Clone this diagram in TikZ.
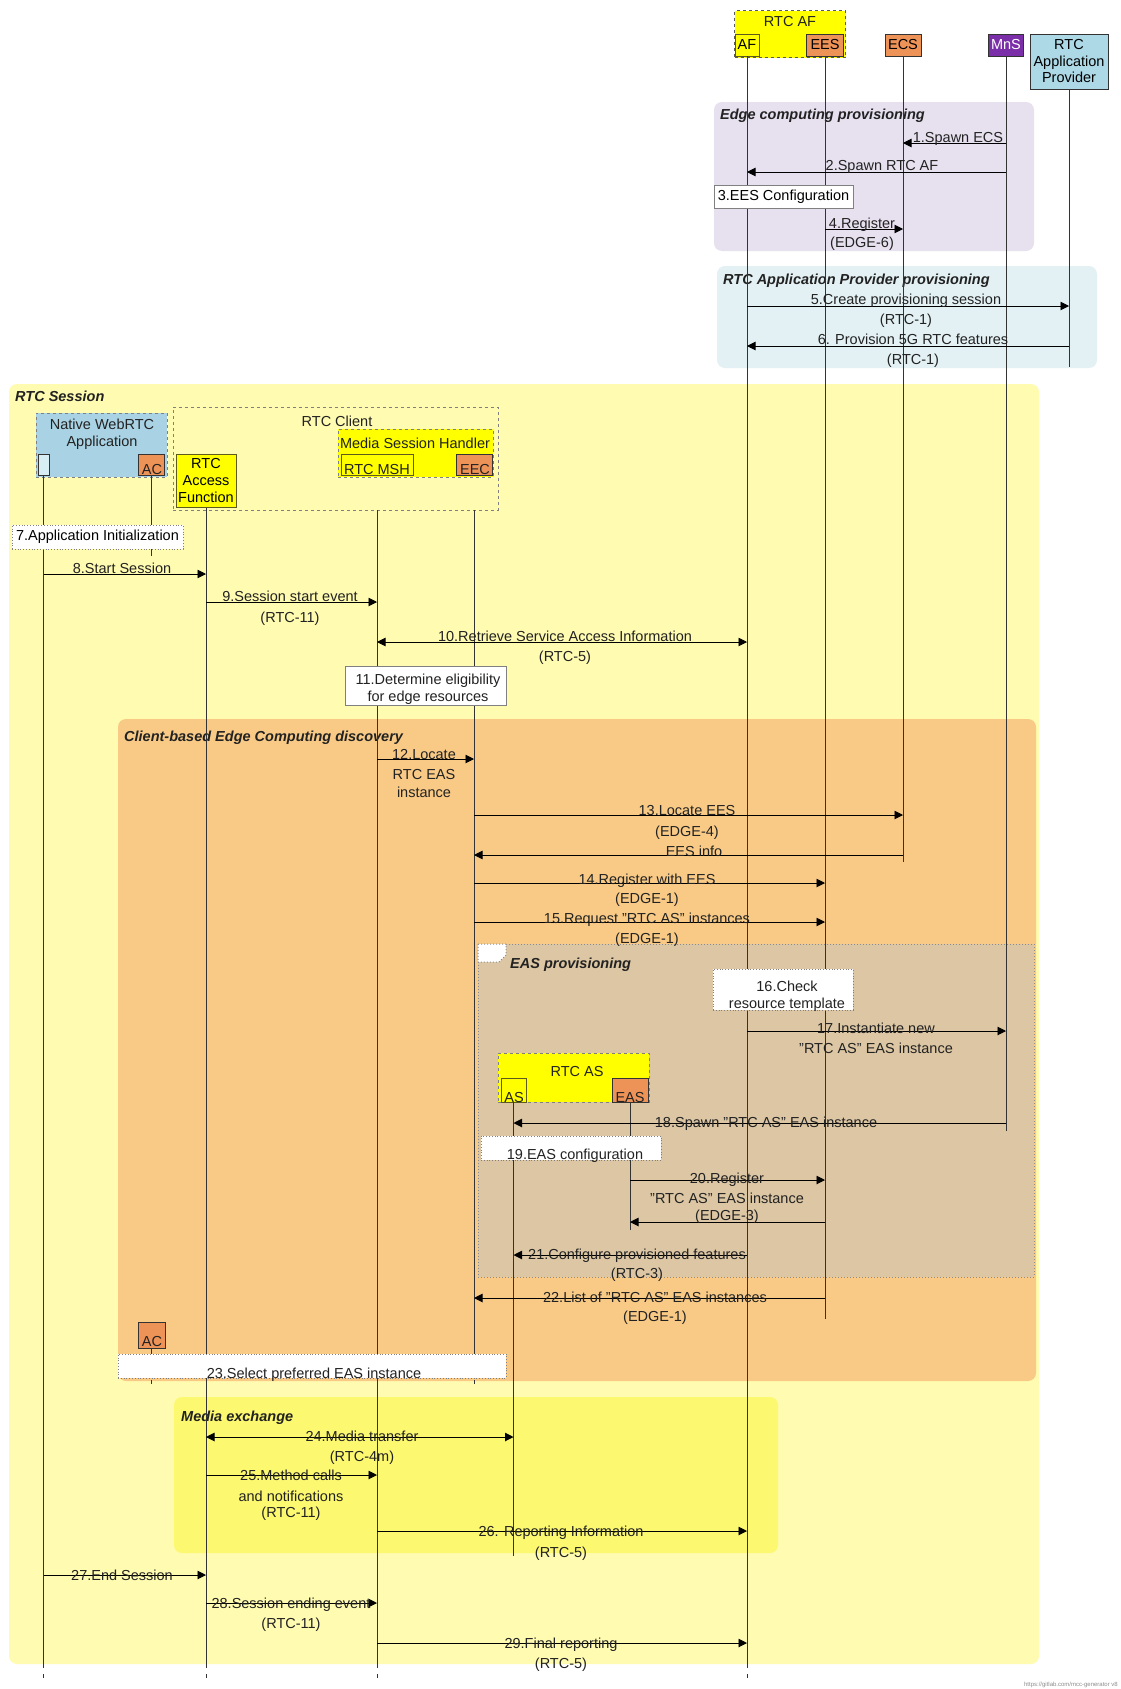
\documentclass[tikz,border=0pt]{standalone}
\usepackage{fontspec}
\setmainfont{Liberation Sans}
\usetikzlibrary{arrows.meta}
\definecolor{edgelav}{HTML}{E7E0EF}
\definecolor{apblue}{HTML}{E3F1F5}
\definecolor{sessyel}{HTML}{FFFBB0}
\definecolor{discor}{HTML}{F8CA86}
\definecolor{eastan}{HTML}{DCC6A3}
\definecolor{mediayel}{HTML}{FCF870}
\definecolor{headyel}{HTML}{FFFF00}
\definecolor{orng}{HTML}{EE9358}
\definecolor{mnspurple}{HTML}{7A2FA8}
\definecolor{rapblue}{HTML}{ADD8E6}
\definecolor{natblue}{HTML}{A9D3E4}
\definecolor{natlight}{HTML}{D8EEF5}
\definecolor{olivedge}{HTML}{5E5A1E}
\definecolor{linegrey}{HTML}{333333}
\definecolor{txtgrey}{HTML}{222222}
\tikzset{
  fnt/.style={font=\fontsize{14.5}{17}\selectfont},
  life/.style={draw=linegrey, line width=0.9pt},
  msg/.style={draw=black, line width=0.9pt, -{Triangle[length=8.5pt,width=8.5pt]}},
  bimsg/.style={draw=black, line width=0.9pt, {Triangle[length=8.5pt,width=8.5pt]}-{Triangle[length=8.5pt,width=8.5pt]}},
  lbl/.style={fnt, inner sep=0pt, anchor=base, text=txtgrey},
  ttl/.style={inner sep=0pt, anchor=base west, font=\fontsize{14.5}{17}\selectfont\bfseries\itshape, text=txtgrey},
  hbox/.style={fnt, draw=linegrey, line width=0.9pt, inner sep=0pt},
  ybox/.style={hbox, fill=headyel, draw=olivedge},
  obox/.style={hbox, fill=orng},
  grp/.style={draw=black!65, dashed, line width=1pt, inner sep=0pt},
  note/.style={fnt, fill=white, draw=black!50, line width=0.8pt, inner sep=0pt, align=center},
  dnote/.style={note, dotted, line width=1pt},
  frm/.style={rounded corners=8pt},
  tick/.style={draw=linegrey, line width=0.9pt},
}
\begin{document}
\begin{tikzpicture}[x=1pt,y=-1pt]
\useasboundingbox (0,0) rectangle (1120,1689);
\fill[white] (0,0) rectangle (1120,1689);

% ---------- frames ----------
\fill[frm, fill=edgelav] (714,102) rectangle (1034,251);
\fill[frm, fill=apblue] (717,266) rectangle (1097,368);
\fill[frm, fill=sessyel] (9,384) rectangle (1039,1664);
\fill[frm, fill=discor] (118,719) rectangle (1036,1381);
\filldraw[fill=eastan, draw=black!45, dotted, line width=1pt] (478,944) rectangle (1034,1277);
\filldraw[fill=white, draw=black!45, dotted, line width=1pt] (478,944) -- (506,944) -- (506,955) -- (499,962) -- (478,962) -- cycle;
\fill[frm, fill=mediayel] (174,1397) rectangle (778,1553);

\node[ttl] (tEdge) at (720,119) {Edge computing provisioning};
\node[ttl] (tRap) at (723,284) {RTC Application Provider provisioning};
\node[ttl] (tSess) at (15,401) {RTC Session};
\node[ttl] (tDisc) at (124,741) {Client-based Edge Computing discovery};
\node[ttl] (tEasp) at (510,968) {EAS provisioning};
\node[ttl] (tMedia) at (181,1421) {Media exchange};

% ---------- group boxes ----------
\node[grp, fill=headyel, minimum width=111pt, minimum height=47pt] (gAF) at (790,34) {};
\node[lbl] (tAF) at (790,26) {RTC AF};
\node[grp, draw=black!50, fill=natblue, minimum width=131pt, minimum height=64pt] (gNat) at (101.5,445) {};
\node[fnt, inner sep=0pt, align=center, text=txtgrey] (tNat) at (102,434) {Native WebRTC\\Application};
\node[grp, draw=black!50, minimum width=325pt, minimum height=103pt] (gCli) at (335.5,458.5) {};
\node[lbl] (tCli) at (337,426) {RTC Client};
\node[grp, draw=black!50, fill=headyel, minimum width=155pt, minimum height=48pt] (gMSH) at (415.5,453) {};
\node[lbl] (tMSHg) at (415,448) {Media Session Handler};
\node[grp, draw=black!50, fill=headyel, minimum width=151pt, minimum height=49pt] (gAS) at (573.5,1077.5) {};
\node[lbl] (tRAS) at (577,1076) {RTC AS};

% ---------- heads ----------
\node[ybox, minimum width=24pt, minimum height=22pt] (hAF) at (747,45) {AF};
\node[obox, minimum width=37pt, minimum height=22pt] (hEES) at (825,45) {EES};
\node[obox, minimum width=36pt, minimum height=22pt] (hECS) at (903,45) {ECS};
\node[hbox, fill=mnspurple, text=white, minimum width=35pt, minimum height=22pt] (hMnS) at (1006,45) {MnS};
\node[hbox, fill=rapblue, minimum width=78pt, minimum height=55pt, align=center, font=\fontsize{14.5}{16.5}\selectfont] (hRAP) at (1069,61.5) {RTC\\Application\\Provider};

\node[hbox, fill=natlight, minimum width=11pt, minimum height=21pt] (hNat) at (43.5,464.5) {};
\node[obox, minimum width=26pt, minimum height=21pt] (hAC) at (151,464.5) {};
\node[lbl] (tAC) at (152,474) {AC};
\node[ybox, minimum width=60pt, minimum height=53pt, align=center, font=\fontsize{14.5}{17}\selectfont] (hRAF) at (206,481) {RTC\\Access\\Function};
\node[ybox, minimum width=72pt, minimum height=21pt] (hMSH) at (377,464.5) {};
\node[lbl] (tMSH) at (377,474) {RTC MSH};
\node[obox, minimum width=36pt, minimum height=21pt] (hEEC) at (474,464.5) {};
\node[lbl] (tEEC) at (475,474) {EEC};

% ---------- lifelines ----------
\draw[life] (hAF.south) -- (hAF.south |- 0,1668);
\draw[life] (hEES.south) -- (hEES.south |- 0,1319);
\draw[life] (hECS.south) -- (hECS.south |- 0,862);
\draw[life] (hMnS.south) -- (hMnS.south |- 0,1131);
\draw[life] (hRAP.south) -- (hRAP.south |- 0,367);
\draw[life] (hNat.south) -- (hNat.south |- 0,1668);
\draw[life] (hAC.south) -- (hAC.south |- 0,556);
\draw[life] (hRAF.south) -- (hRAF.south |- 0,1668);
\draw[life] (hMSH.south |- 0,510) -- (hMSH.south |- 0,1668);
\draw[life] (hEEC.south |- 0,510) -- (hEEC.south |- 0,1354);

% ---------- messages ----------
\draw[msg] (hMnS |- 0,143) -- (hECS |- 0,143);
\draw[msg] (hMnS |- 0,172) -- (hAF |- 0,172);
\draw[msg] (hEES |- 0,229) -- (hECS |- 0,229);
\draw[msg] (hAF |- 0,306) -- (hRAP |- 0,306);
\draw[msg] (hRAP |- 0,346) -- (hAF |- 0,346);
\draw[msg] (hNat |- 0,574) -- (hRAF |- 0,574);
\draw[msg] (hRAF |- 0,602) -- (hMSH |- 0,602);
\draw[bimsg] (hMSH |- 0,642) -- (hAF |- 0,642);
\draw[msg] (hMSH |- 0,759) -- (hEEC |- 0,759);
\draw[msg] (hEEC |- 0,815) -- (hECS |- 0,815);
\draw[msg] (hECS |- 0,855) -- (hEEC |- 0,855);
\draw[msg] (hEEC |- 0,883) -- (hEES |- 0,883);
\draw[msg] (hEEC |- 0,922) -- (hEES |- 0,922);
\draw[msg] (hAF |- 0,1031) -- (hMnS |- 0,1031);

% notes (opaque, over lifelines)
\node[note, minimum width=139pt, minimum height=23pt] (n3) at (783.5,196.5) {3.EES Configuration};
\node[dnote, minimum width=171pt, minimum height=24pt] (n7) at (97.5,537) {7.Application Initialization};
\node[note, minimum width=161pt, minimum height=39pt, font=\fontsize{14.5}{17}\selectfont] (n11) at (425.5,685.5) {};
\node[fnt, inner sep=0pt, align=center, text=txtgrey] (t11) at (428,689) {11.Determine eligibility\\for edge resources};
\node[dnote, minimum width=140pt, minimum height=41pt] (n16) at (783,989.5) {};
\node[fnt, inner sep=0pt, align=center, text=txtgrey] (t16) at (787,996) {16.Check\\resource template};

% RTC AS heads
\node[ybox, minimum width=25pt, minimum height=24pt] (hAS) at (513.5,1090) {};
\node[lbl] (tAS) at (514,1102) {AS};
\node[obox, minimum width=36pt, minimum height=24pt] (hEAS) at (630,1090) {};
\node[lbl] (tEAS) at (630,1102) {EAS};
\draw[life] (hAS.south) -- (hAS.south |- 0,1556);
\draw[life] (hEAS.south) -- (hEAS.south |- 0,1230);

\draw[msg] (hMnS |- 0,1123) -- (hAS |- 0,1123);
\node[dnote, minimum width=180pt, minimum height=24pt] (n19) at (571,1148) {};
\node[lbl] (t19) at (575,1159) {19.EAS configuration};
\draw[msg] (hEAS |- 0,1180) -- (hEES |- 0,1180);
\draw[msg] (hEES |- 0,1222) -- (hEAS |- 0,1222);
\draw[msg] (hAF |- 0,1255) -- (hAS |- 0,1255);
\draw[msg] (hEES |- 0,1298) -- (hEEC |- 0,1298);

% second AC and 23
\node[obox, minimum width=27pt, minimum height=26pt] (hAC2) at (151.5,1335) {};
\node[lbl] (tAC2) at (152,1346) {AC};
\draw[life] (hAC2.south) -- (hAC2.south |- 0,1354);
\node[dnote, minimum width=388pt, minimum height=24pt] (n23) at (312,1366) {};
\node[lbl] (t23) at (314,1378) {23.Select preferred EAS instance};
\draw[tick] (hAC2.south |- 0,1380) -- (hAC2.south |- 0,1384);
\draw[tick] (hEEC.south |- 0,1380) -- (hEEC.south |- 0,1384);

\draw[bimsg] (hRAF |- 0,1437) -- (hAS |- 0,1437);
\draw[msg] (hRAF |- 0,1475) -- (hMSH |- 0,1475);
\draw[msg] (hMSH |- 0,1531) -- (hAF |- 0,1531);
\draw[msg] (hNat |- 0,1575) -- (hRAF |- 0,1575);
\draw[msg] (hRAF |- 0,1603) -- (hMSH |- 0,1603);
\draw[msg] (hMSH |- 0,1643) -- (hAF |- 0,1643);

% bottom ticks
\draw[tick] (hNat.south |- 0,1674) -- (hNat.south |- 0,1678);
\draw[tick] (hRAF.south |- 0,1674) -- (hRAF.south |- 0,1678);
\draw[tick] (hMSH.south |- 0,1674) -- (hMSH.south |- 0,1678);
\draw[tick] (hAF.south |- 0,1674) -- (hAF.south |- 0,1678);

% ---------- labels ----------
\node[lbl] (l1) at (958,142) {1.Spawn ECS};
\node[lbl] (l2) at (882,170) {2.Spawn RTC AF};
\node[lbl] (l4a) at (862,228) {4.Register};
\node[lbl] (l4b) at (862,247) {(EDGE-6)};
\node[lbl] (l5a) at (906,304) {5.Create provisioning session};
\node[lbl] (l5b) at (906,324) {(RTC-1)};
\node[lbl] (l6a) at (913,344) {6. Provision 5G RTC features};
\node[lbl] (l6b) at (913,364) {(RTC-1)};
\node[lbl] (l8) at (122,573) {8.Start Session};
\node[lbl] (l9a) at (290,601) {9.Session start event};
\node[lbl] (l9b) at (290,622) {(RTC-11)};
\node[lbl] (l10a) at (565,641) {10.Retrieve Service Access Information};
\node[lbl] (l10b) at (565,661) {(RTC-5)};
\node[lbl] (l12a) at (424,759) {12.Locate};
\node[lbl] (l12b) at (424,779) {RTC EAS};
\node[lbl] (l12c) at (424,797) {instance};
\node[lbl] (l13a) at (687,815) {13.Locate EES};
\node[lbl] (l13b) at (687,836) {(EDGE-4)};
\node[lbl] (l13r) at (694,856) {EES info};
\node[lbl] (l14a) at (647,884) {14.Register with EES};
\node[lbl] (l14b) at (647,903) {(EDGE-1)};
\node[lbl] (l15a) at (647,923) {15.Request "RTC AS" instances};
\node[lbl] (l15b) at (647,943) {(EDGE-1)};
\node[lbl] (l17a) at (876,1033) {17.Instantiate new};
\node[lbl] (l17b) at (876,1053) {"RTC AS" EAS instance};
\node[lbl] (l18) at (766,1127) {18.Spawn "RTC AS" EAS instance};
\node[lbl] (l20a) at (727,1183) {20.Register};
\node[lbl] (l20b) at (727,1203) {"RTC AS" EAS instance};
\node[lbl] (l20c) at (727,1220) {(EDGE-3)};
\node[lbl] (l21a) at (637,1259) {21.Configure provisioned features};
\node[lbl] (l21b) at (637,1278) {(RTC-3)};
\node[lbl] (l22a) at (655,1302) {22.List of "RTC AS" EAS instances};
\node[lbl] (l22b) at (655,1321) {(EDGE-1)};
\node[lbl] (l24a) at (362,1441) {24.Media transfer};
\node[lbl] (l24b) at (362,1461) {(RTC-4m)};
\node[lbl] (l25a) at (291,1480) {25.Method calls};
\node[lbl] (l25b) at (291,1501) {and notifications};
\node[lbl] (l25c) at (291,1517) {(RTC-11)};
\node[lbl] (l26a) at (561,1536) {26. Reporting Information};
\node[lbl] (l26b) at (561,1557) {(RTC-5)};
\node[lbl] (l27) at (122,1580) {27.End Session};
\node[lbl] (l28a) at (291,1608) {28.Session ending event};
\node[lbl] (l28b) at (291,1628) {(RTC-11)};
\node[lbl] (l29a) at (561,1648) {29.Final reporting};
\node[lbl] (l29b) at (561,1668) {(RTC-5)};

\node[inner sep=0pt, anchor=base east, font=\fontsize{6}{7}\selectfont, text=black!45] (wm) at (1118,1686) {https://gitlab.com/mcc-generator v8};
\end{tikzpicture}
\end{document}
